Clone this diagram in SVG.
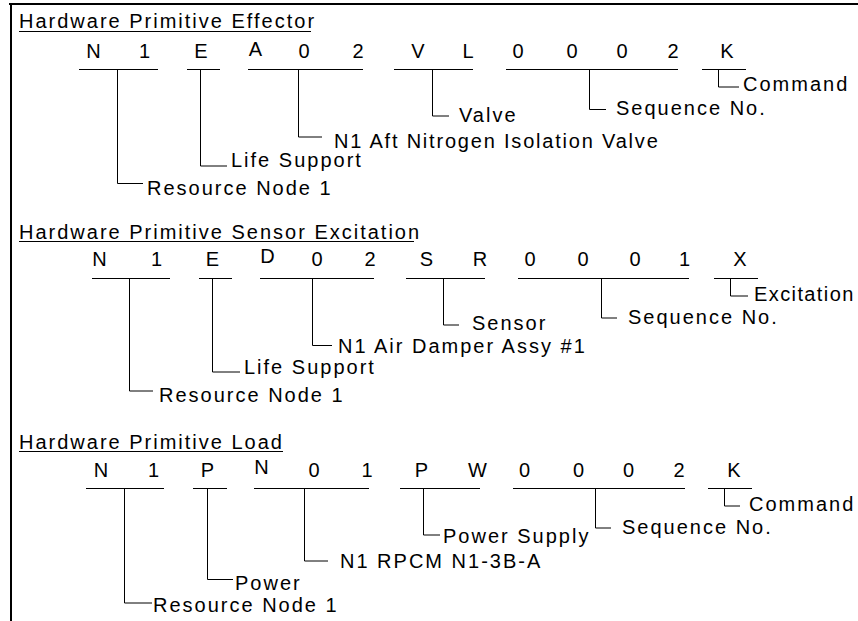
<svg xmlns="http://www.w3.org/2000/svg" width="858" height="621" viewBox="0 0 858 621">
  <style>
    text { font-family: "Liberation Sans", Arial, Helvetica, sans-serif; font-size: 20px; fill: #000; }
    .title { letter-spacing: 2px; }
    .label { letter-spacing: 2px; }
    .tight { letter-spacing: 1.8px; }
    .edge { letter-spacing: 1.4px; }
    .code { text-anchor: middle; }
    .rule { stroke: #000; stroke-width: 1; fill: none; }
    .lead { stroke: #000; stroke-width: 1; fill: none; }
    .frame { stroke: #000; stroke-width: 2; fill: none; }
  </style>

  <rect x="0" y="0" width="858" height="621" fill="#fff"/>

  <!-- page frame: top and left edges -->
  <path class="frame" d="M9 4 H858 M11 3 V621"/>

  <!-- ===== Effector ===== -->
  <g id="effector">
    <text class="title" x="19" y="28">Hardware Primitive Effector</text>
    <line class="rule" x1="19" y1="31.5" x2="311" y2="31.5"/>
    <g id="effector-code">
      <text class="code" x="93.5" y="57.5">N</text>
      <text class="code" x="144.5" y="57.5">1</text>
      <text class="code" x="201" y="57.5">E</text>
      <text class="code" x="255.5" y="55.5">A</text>
      <text class="code" x="304" y="57.5">0</text>
      <text class="code" x="358" y="57.5">2</text>
      <text class="code" x="418" y="57.5">V</text>
      <text class="code" x="468" y="57.5">L</text>
      <text class="code" x="518" y="57.5">0</text>
      <text class="code" x="572" y="57.5">0</text>
      <text class="code" x="622" y="57.5">0</text>
      <text class="code" x="673" y="57.5">2</text>
      <text class="code" x="727" y="57.5">K</text>
    </g>
    <g id="effector-fields">
      <text class="label" x="147" y="195">Resource Node 1</text>
      <text class="label" x="231" y="167">Life Support</text>
      <text class="label tight" x="334" y="147.5">N1 Aft Nitrogen Isolation Valve</text>
      <text class="label" x="459" y="122">Valve</text>
      <text class="label" x="616" y="115">Sequence No.</text>
      <text class="label" x="743" y="91">Command</text>
    </g>
  </g>

  <!-- ===== Sensor Excitation ===== -->
  <g id="sensor-excitation">
    <text class="title" x="19" y="238.5">Hardware Primitive Sensor Excitation</text>
    <line class="rule" x1="19" y1="241.5" x2="414" y2="241.5"/>
    <g id="sensor-code">
      <text class="code" x="99.5" y="266">N</text>
      <text class="code" x="156.5" y="266">1</text>
      <text class="code" x="212.5" y="266">E</text>
      <text class="code" x="267.5" y="263">D</text>
      <text class="code" x="317" y="266">0</text>
      <text class="code" x="370" y="266">2</text>
      <text class="code" x="426.5" y="266">S</text>
      <text class="code" x="480" y="266">R</text>
      <text class="code" x="530" y="266">0</text>
      <text class="code" x="583" y="266">0</text>
      <text class="code" x="635" y="266">0</text>
      <text class="code" x="684.5" y="266">1</text>
      <text class="code" x="740" y="266">X</text>
    </g>
    <g id="sensor-fields">
      <text class="label" x="159" y="402">Resource Node 1</text>
      <text class="label" x="244" y="373.5">Life Support</text>
      <text class="label" x="338" y="353">N1 Air Damper Assy #1</text>
      <text class="label" x="472" y="330">Sensor</text>
      <text class="label" x="628" y="324">Sequence No.</text>
      <text class="label edge" x="754" y="301">Excitation</text>
    </g>
  </g>

  <!-- ===== Load ===== -->
  <g id="load">
    <text class="title" x="19" y="448.5">Hardware Primitive Load</text>
    <line class="rule" x1="19" y1="451.5" x2="283" y2="451.5"/>
    <g id="load-code">
      <text class="code" x="101" y="477">N</text>
      <text class="code" x="153.5" y="477">1</text>
      <text class="code" x="207.5" y="477">P</text>
      <text class="code" x="261.5" y="474">N</text>
      <text class="code" x="314" y="477">0</text>
      <text class="code" x="367" y="477">1</text>
      <text class="code" x="421.5" y="477">P</text>
      <text class="code" x="477.5" y="477">W</text>
      <text class="code" x="524.5" y="477">0</text>
      <text class="code" x="578.5" y="477">0</text>
      <text class="code" x="628.5" y="477">0</text>
      <text class="code" x="679" y="477">2</text>
      <text class="code" x="734" y="477">K</text>
    </g>
    <g id="load-fields">
      <text class="label" x="153" y="612">Resource Node 1</text>
      <text class="label" x="235" y="590">Power</text>
      <text class="label" x="340" y="568">N1 RPCM N1-3B-A</text>
      <text class="label" x="443" y="543">Power Supply</text>
      <text class="label" x="622" y="534">Sequence No.</text>
      <text class="label" x="749" y="511">Command</text>
    </g>
  </g>

  <!-- field brackets and leader lines -->
  <g id="connectors">
    <!-- Effector -->
    <path class="rule" d="M79 69.5 H158 M187 69.5 H220 M248 69.5 H363 M394 69.5 H473 M506 69.5 H678 M702 69.5 H746"/>
    <path class="lead" d="M117.5 69.5 V183.5 H143"/>
    <path class="lead" d="M200.5 69.5 V166 H227"/>
    <path class="lead" d="M298.5 69.5 V137 H322"/>
    <path class="lead" d="M432.5 69.5 V116 H449"/>
    <path class="lead" d="M589.5 69.5 V109.5 H606"/>
    <path class="lead" d="M718.5 69.5 V87 H739"/>

    <!-- Sensor Excitation -->
    <path class="rule" d="M92 278.5 H170 M199 278.5 H232 M260 278.5 H374 M406 278.5 H485 M518 278.5 H689 M714 278.5 H758"/>
    <path class="lead" d="M129.5 278.5 V391 H153"/>
    <path class="lead" d="M212.5 278.5 V372 H240"/>
    <path class="lead" d="M312.5 278.5 V345.5 H332"/>
    <path class="lead" d="M443.5 278.5 V325 H459"/>
    <path class="lead" d="M601.5 278.5 V318 H617"/>
    <path class="lead" d="M730.5 278.5 V296 H748"/>

    <!-- Load -->
    <path class="rule" d="M86 488.5 H164 M193 488.5 H227 M254 488.5 H369 M400 488.5 H480 M513 488.5 H685 M708 488.5 H752"/>
    <path class="lead" d="M124.5 488.5 V603 H152"/>
    <path class="lead" d="M207.5 488.5 V579.5 H233"/>
    <path class="lead" d="M304.5 488.5 V561 H328"/>
    <path class="lead" d="M423.5 488.5 V535 H440"/>
    <path class="lead" d="M595.5 488.5 V528 H611"/>
    <path class="lead" d="M724.5 488.5 V506 H740"/>
  </g>
</svg>
